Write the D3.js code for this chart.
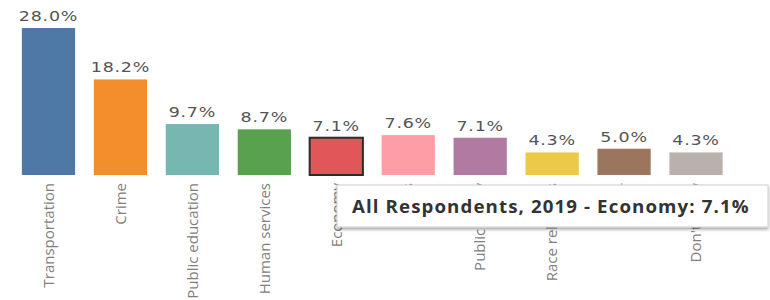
<!DOCTYPE html>
<html>
<head>
<meta charset="utf-8">
<script src="https://cdn.jsdelivr.net/npm/d3@7"></script>
<style>
	body { margin: 0; background: #fff; }
	svg { display: block; }
</style>
</head>
<body>
<div id="chart"></div>
<script>
	// data
	var categories = ['Transportation', 'Crime', 'Public education', 'Human services', 'Economy',
		'Taxes', 'Public safety', 'Race relations', 'Other', "Don't know"]
	var values = [28.0, 18.2, 9.7, 8.7, 7.1, 7.6, 7.1, 4.3, 5.0, 4.3]
	var colors = ['#4e79a7', '#f28e2b', '#76b7b2', '#59a14f', '#e15759',
		'#ff9da7', '#b07aa1', '#edc948', '#9c755f', '#bab0ac']
	var selected = 'Economy'
	var tooltipText = 'All Respondents, 2019 - Economy: 7.1%'

	var width = 770
	var height = 300
	var baseY = 175

	var svg = d3.select('#chart').append('svg')
		.attr('width', width)
		.attr('height', height)

	var defs = svg.append('defs')
	var shadow = defs.append('filter').attr('id', 'shadow')
		.attr('x', '-5%').attr('y', '-20%').attr('width', '110%').attr('height', '160%')
	shadow.append('feDropShadow')
		.attr('dx', 0).attr('dy', 2).attr('stdDeviation', 1.5)
		.attr('flood-color', '#000').attr('flood-opacity', 0.35)

	var data = categories.map(function(c, i) {
		return { cat: c, value: values[i], color: colors[i] }
	})

	var x = d3.scaleBand()
		.domain(categories)
		.range([12.5, 732])
		.paddingInner(0.26)
		.paddingOuter(0.13)

	var y = d3.scaleLinear()
		.domain([0, 28])
		.range([baseY, 28])

	var chart = svg.append('g')

	// bars
	chart.selectAll('.bar')
		.data(data)
		.enter().append('rect')
			.attr('class', 'bar')
			.attr('x', function(d) { return x(d.cat) })
			.attr('y', function(d) { return y(d.value) })
			.attr('width', x.bandwidth())
			.attr('height', function(d) { return y(0) - y(d.value) })
			.attr('fill', function(d) { return d.color })
			.attr('stroke', function(d) { return d.cat === selected ? '#2b2b2b' : 'none' })
			.attr('stroke-width', 2)

	// value labels
	chart.selectAll('.val')
		.data(data)
		.enter().append('text')
			.attr('class', 'val')
			.attr('transform', function(d) {
				return 'translate(' + (x(d.cat) + x.bandwidth() / 2) + ',' + (y(d.value) - 7) + ') scale(1.25,1)'
			})
			.attr('text-anchor', 'middle')
			.style('font-family', 'DejaVu Sans')
			.style('font-size', '14px')
			.style('letter-spacing', '0.6px')
			.attr('fill', '#555')
			.text(function(d) { return d.value.toFixed(1) + '%' })

	// category labels, rotated
	chart.selectAll('.cat')
		.data(data)
		.enter().append('text')
			.attr('class', 'cat')
			.attr('transform', function(d) {
				return 'translate(' + (x(d.cat) + x.bandwidth() / 2) + ',' + (baseY + 8) + ') rotate(-90)'
			})
			.attr('text-anchor', 'end')
			.attr('dy', '0.35em')
			.style('font-family', 'Open Sans')
			.style('font-size', '15px')
			.attr('fill', '#808080')
			.text(function(d) { return d.cat })

	// tooltip for the selected bar
	var tip = svg.append('g').attr('transform', 'translate(337,185)')
	tip.append('rect')
		.attr('width', 431)
		.attr('height', 42)
		.attr('fill', '#fff')
		.attr('stroke', '#d0d0d0')
		.attr('filter', 'url(#shadow)')
	tip.append('text')
		.attr('transform', 'translate(15,28) scale(1.1,1)')
		.style('font-family', 'Open Sans')
		.style('font-weight', 'bold')
		.style('font-size', '17px')
		.style('letter-spacing', '1px')
		.attr('fill', '#333')
		.text(tooltipText)
</script>
</body>
</html>
